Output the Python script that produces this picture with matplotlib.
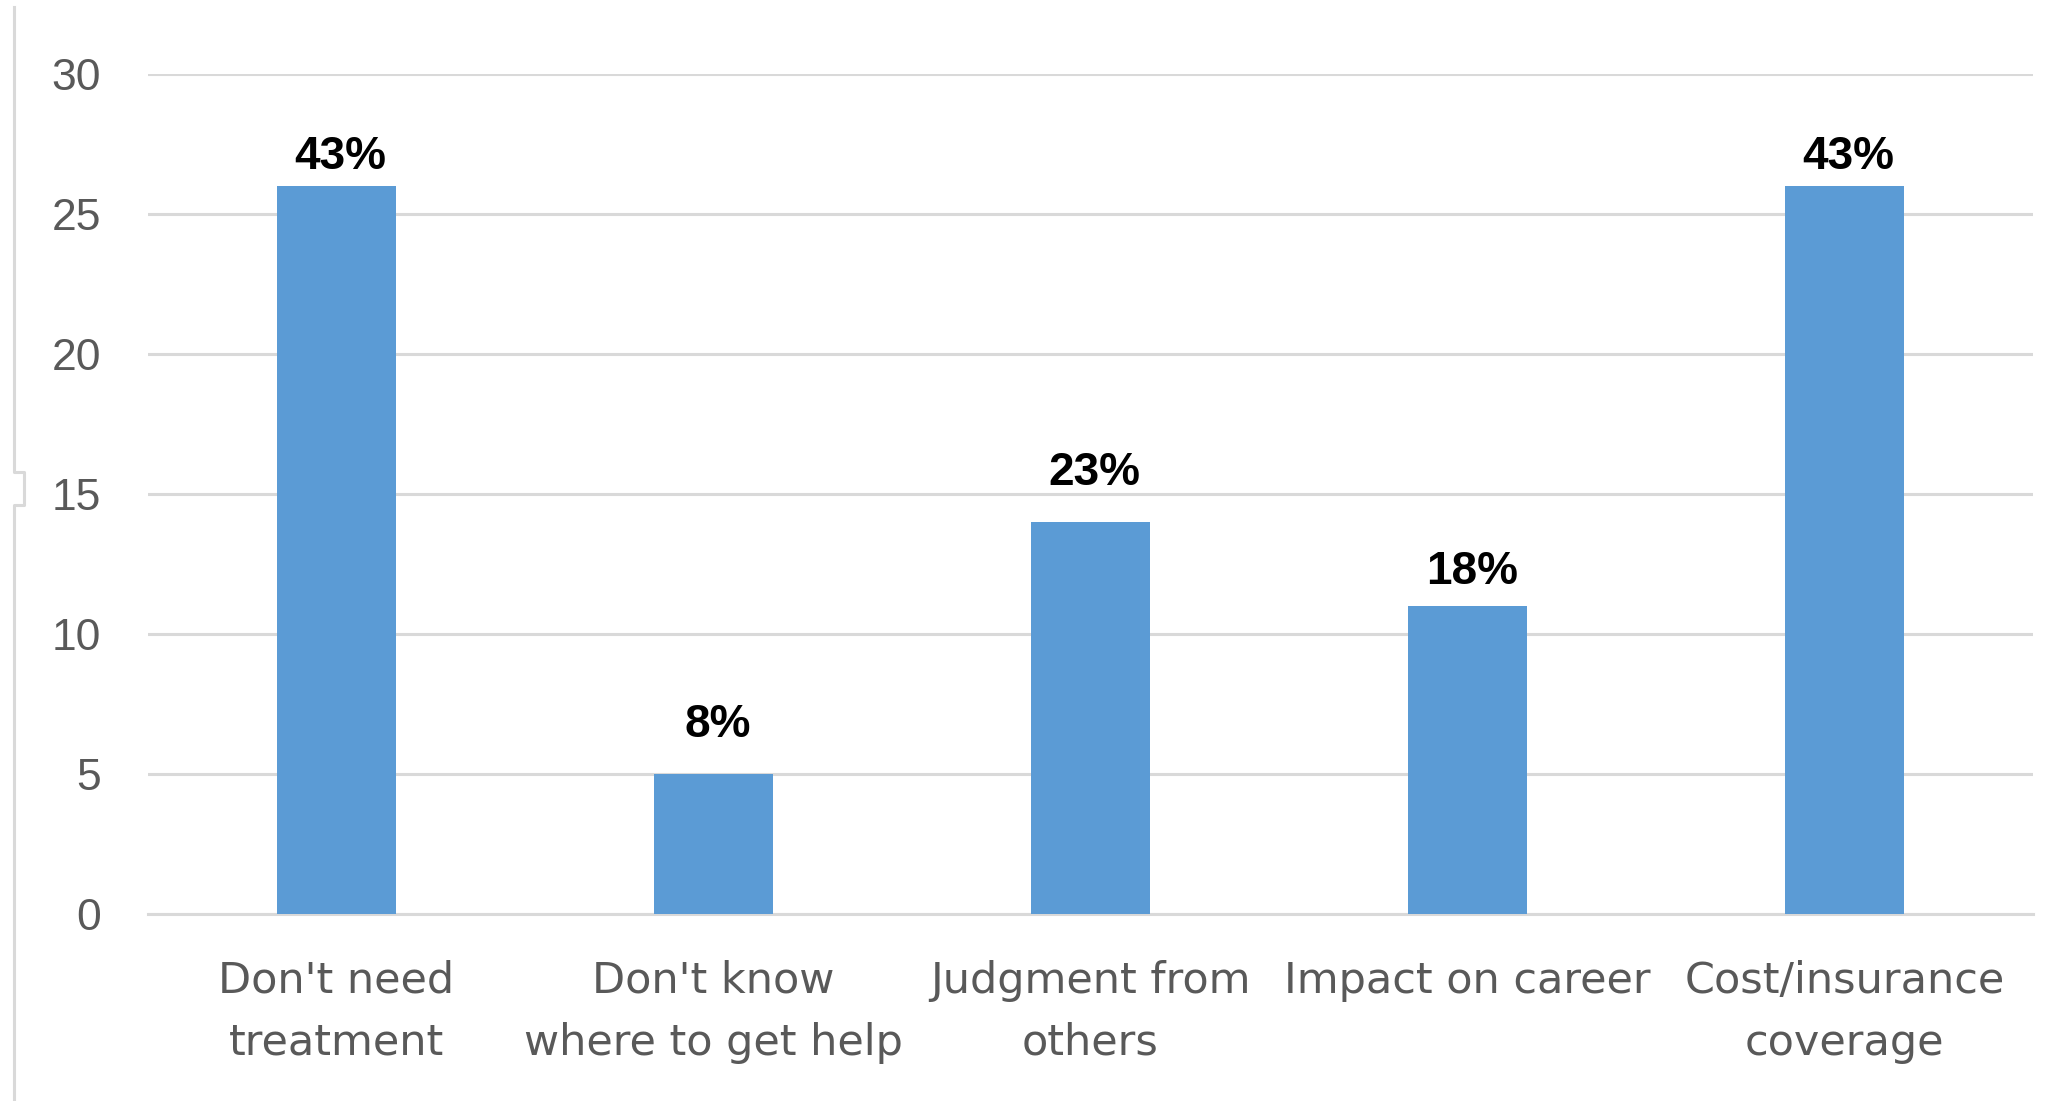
import numpy as np
import matplotlib.pyplot as plt
from matplotlib.lines import Line2D

categories = ["Don't need\ntreatment", "Don't know\nwhere to get help", "Judgment from\nothers",
              "Impact on career", "Cost/insurance\ncoverage"]
counts = [26, 5, 14, 11, 26]
pct_labels = ["43%", "8%", "23%", "18%", "43%"]
yticks = [0, 5, 10, 15, 20, 25, 30]
# label gap above bar (points), labels were nudged by hand in the original
label_gap = [12.2, 26.6, 26.6, 15.8, 12.2]

W, H = 2045, 1101
fig = plt.figure(figsize=(W/100, H/100), dpi=100)
ax = fig.add_axes([148/W, 1-914/H, (2033-148)/W, (914-74)/H])

x = np.arange(len(categories))
bars = ax.bar(x, counts, width=0.313, color='#5b9bd5', zorder=3)

ax.set_xlim(-0.5, len(categories)-0.5)
ax.set_ylim(0, 30)
ax.set_yticks(yticks)
ax.yaxis.grid(True, color='#d9d9d9', linewidth=2.2, zorder=0)
ax.set_axisbelow(True)
for s in ['top', 'right', 'left']:
    ax.spines[s].set_visible(False)
ax.spines['bottom'].set_color('#d9d9d9')
ax.spines['bottom'].set_linewidth(2.2)

ax.set_xticks(x)
ax.set_xticklabels(categories, fontsize=31, color='#595959', family='DejaVu Sans', linespacing=1.6)
ax.tick_params(axis='x', length=0, pad=33)
ax.tick_params(axis='y', length=0, pad=34, labelsize=32, labelcolor='#595959')
for t in ax.get_yticklabels():
    t.set_family('Liberation Sans')

for xi, v, lab, g in zip(x, counts, pct_labels, label_gap):
    ax.annotate(lab, (xi, v), xytext=(3, g), textcoords='offset points',
                ha='center', va='baseline', fontsize=33, fontweight='bold',
                family='Liberation Sans', color='black')

# frame line on the left edge of the picture
fx = np.array([14, 14, 24, 24, 14, 14])
fy = np.array([7, 472, 472, 505, 505, 1101])
fig.add_artist(Line2D(fx/W, 1-fy/H, transform=fig.transFigure, color='#d9d9d9', linewidth=2.2))

fig.savefig('out.png', dpi=100)
